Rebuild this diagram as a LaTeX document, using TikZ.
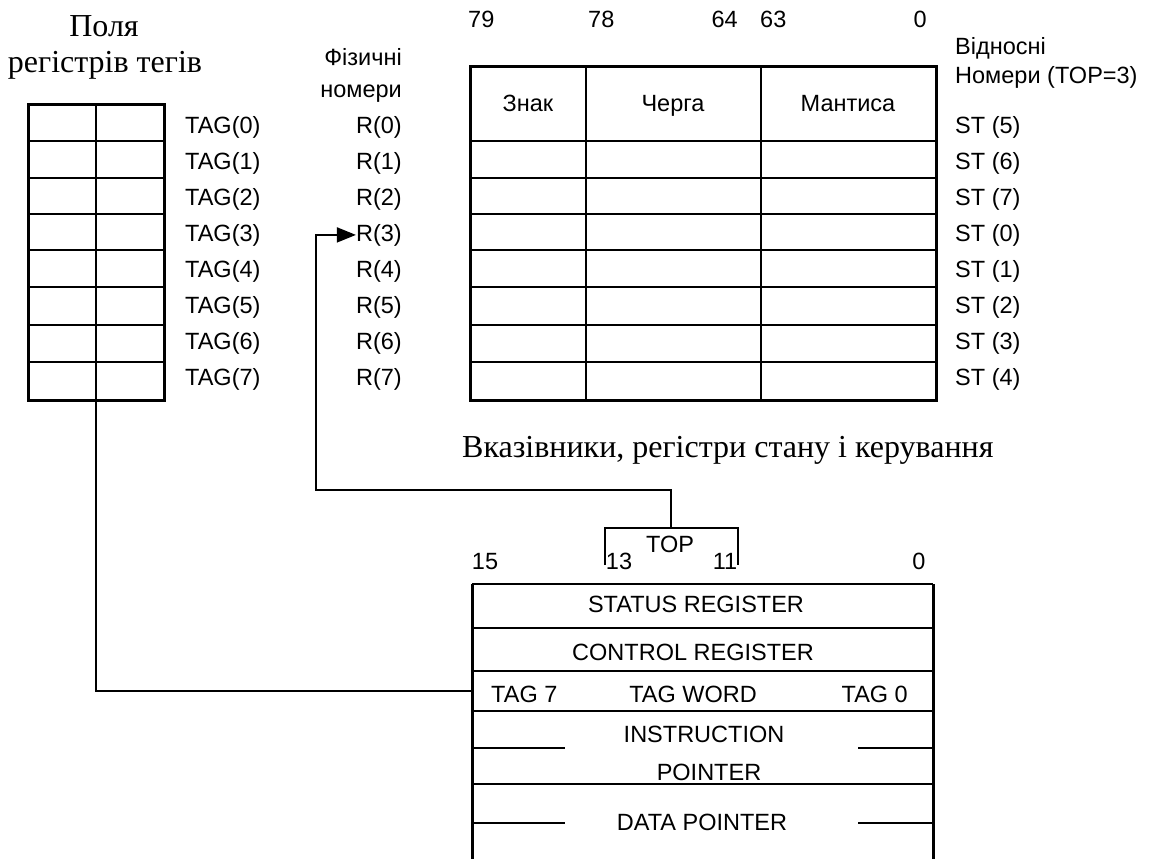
\documentclass[tikz,border=0pt]{standalone}
\usepackage{fontspec}
\setmainfont{Liberation Serif}
\setsansfont{Liberation Sans}
\usetikzlibrary{arrows.meta}
\begin{document}
\begin{tikzpicture}[x=1pt,y=-1pt,
  lab/.style={font=\fontsize{23.5}{27}\selectfont\sffamily, inner sep=0pt},
  serif/.style={font=\fontsize{32}{36}\selectfont\rmfamily, inner sep=0pt},
  border/.style={draw, line width=3pt, inner sep=0pt, outer sep=0pt, anchor=north west},
  grid/.style={line width=1.8pt},
  wall/.style={line width=3pt},
  conn/.style={line width=1.6pt}]
\useasboundingbox (0,0) rectangle (1150,859);

% titles
\node[serif, anchor=base] (t1) at (104,37) {Поля};
\node[serif, anchor=base] (t2) at (105,72) {регістрів тегів};
\node[lab, anchor=base east] (phys1) at (402,65) {Фізичні};
\node[lab, anchor=base east] (phys2) at (402,97) {номери};
\node[lab, anchor=base west] (rel1) at (955,55) {Відносні};
\node[lab, anchor=base west] (rel2) at (955,83) {Номери (TOP=3)};

% tag table
\foreach \y in {141,178,214,250,287,325,362} \draw[grid] (28,\y) -- (164,\y);
\draw[grid] (96,104) -- (96,400);
\node[border, minimum width=136pt, minimum height=296pt] (tagtab) at (28,104) {};

% register table
\foreach \y in {141,178,214,250,287,325,362} \draw[grid] (470,\y) -- (936,\y);
\draw[grid] (586,66) -- (586,400);
\draw[grid] (761,66) -- (761,400);
\node[border, minimum width=466pt, minimum height=334pt] (regtab) at (470,66) {};

\node[lab, anchor=base] (h1) at (528,111) {Знак};
\node[lab, anchor=base] (h2) at (673,111) {Черга};
\node[lab, anchor=base] (h3) at (848,111) {Мантиса};

\node[lab, anchor=base west] (b79) at (468,28) {79};
\node[lab, anchor=base west] (b78) at (588,28) {78};
\node[lab, anchor=base east] (b64) at (738,28) {64};
\node[lab, anchor=base west] (b63) at (760,28) {63};
\node[lab, anchor=base east] (b0) at (927,28) {0};

% row labels
\foreach \i/\st in {0/5,1/6,2/7,3/0,4/1,5/2,6/3,7/4} {
  \pgfmathsetmacro{\yy}{133+36*\i}
  \node[lab, anchor=base west] (tag\i) at (185,\yy) {TAG(\i)};
  \node[lab, anchor=base east] (r\i) at (402,\yy) {R(\i)};
  \node[lab, anchor=base west] (st\i) at (955,\yy) {ST (\st)};
}

\node[serif, anchor=base west] (cap) at (462,457) {Вказівники, регістри стану і керування};

% bottom register block
\node[inner sep=0pt, outer sep=0pt, minimum width=461pt, minimum height=275pt, anchor=north west] (fpu) at (472,584) {};
\draw[grid] (fpu.north west) -- (fpu.north east);
\draw[grid] (472,628) -- (933,628);
\draw[grid] (472,671) -- (933,671);
\draw[grid] (472,711) -- (933,711);
\draw[grid] (472,748) -- (565,748);
\draw[grid] (858,748) -- (933,748);
\draw[grid] (472,784) -- (933,784);
\draw[grid] (472,823) -- (565,823);
\draw[grid] (858,823) -- (933,823);
\draw[wall] (fpu.north west) -- (fpu.south west);
\draw[wall] (fpu.north east) -- (fpu.south east);

\node[lab, anchor=base] (n15) at (485,569) {15};
\node[lab, anchor=base] (n13) at (619,569) {13};
\node[lab, anchor=base] (n11) at (725,569) {11};
\node[lab, anchor=base] (n0) at (919,569) {0};
\node[lab, anchor=base] (topl) at (670,552) {TOP};
\draw[conn] (605,565) -- (605,528) -- (738,528) -- (738,565);
\coordinate (topb) at (671,528);

\node[lab, anchor=base] (sr) at (696,612) {STATUS REGISTER};
\node[lab, anchor=base] (cr) at (693,660) {CONTROL REGISTER};
\node[lab, anchor=base west] (tg7) at (491,702) {TAG 7};
\node[lab, anchor=base] (tw) at (693,702) {TAG WORD};
\node[lab, anchor=base east] (tg0) at (908,702) {TAG 0};
\node[lab, anchor=base] (ip1) at (704,742) {INSTRUCTION};
\node[lab, anchor=base] (ip2) at (709,780) {POINTER};
\node[lab, anchor=base] (dp) at (702,830) {DATA POINTER};

% connectors
\coordinate (turn) at (316,490);
\coordinate (twrow) at (472,691);
\draw[conn, -{Triangle[length=19pt,width=15pt]}] (topb) |- (turn) |- (r3.west);
\draw[conn] (tagtab.south) |- (twrow);
\end{tikzpicture}
\end{document}
